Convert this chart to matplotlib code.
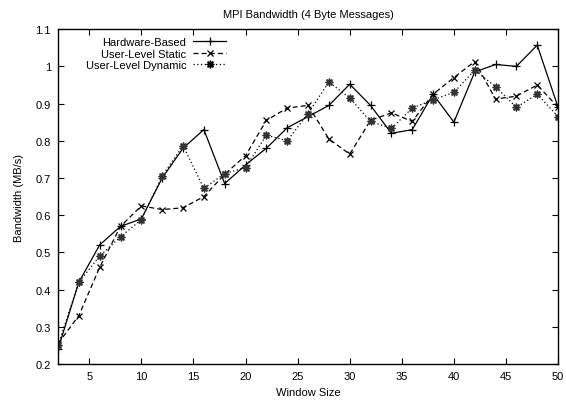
import matplotlib
matplotlib.use("Agg")
import matplotlib.pyplot as plt
from matplotlib.legend_handler import HandlerTuple

plt.rcParams['font.family'] = ['Liberation Sans', 'DejaVu Sans']
plt.rcParams['font.size'] = 8

window = [2, 4, 6, 8, 10, 12, 14, 16, 18, 20, 22, 24, 26, 28, 30,
          32, 34, 36, 38, 40, 42, 44, 46, 48, 50]
hardware = [0.240, 0.420, 0.520, 0.570, 0.590, 0.700, 0.780, 0.830, 0.685,
            0.735, 0.780, 0.835, 0.865, 0.895, 0.952, 0.895, 0.820, 0.830,
            0.925, 0.850, 0.985, 1.005, 1.000, 1.057, 0.890]
static = [0.255, 0.330, 0.460, 0.570, 0.625, 0.615, 0.620, 0.650, 0.710,
          0.760, 0.855, 0.888, 0.895, 0.805, 0.764, 0.855, 0.875, 0.852,
          0.925, 0.970, 1.013, 0.912, 0.920, 0.950, 0.890]
dynamic = [0.250, 0.420, 0.490, 0.542, 0.588, 0.705, 0.787, 0.672, 0.712,
           0.728, 0.815, 0.800, 0.873, 0.958, 0.915, 0.852, 0.833, 0.888,
           0.910, 0.930, 0.990, 0.945, 0.890, 0.925, 0.865]

xticks = [5, 10, 15, 20, 25, 30, 35, 40, 45, 50]
yticks = [0.2, 0.3, 0.4, 0.5, 0.6, 0.7, 0.8, 0.9, 1.0, 1.1]
ytick_labels = ['0.2', '0.3', '0.4', '0.5', '0.6', '0.7', '0.8', '0.9', '1', '1.1']

fig = plt.figure(figsize=(5.66, 4.02), dpi=100)
ax = fig.add_axes([0.1025, 0.092, 0.8835, 0.833])

lw = 0.9
h1, = ax.plot(window, hardware, color='black', lw=lw, ls='-',
              marker='+', ms=6, mew=0.9)
h2, = ax.plot(window, static, color='black', lw=lw, ls=(0, (4, 2.5)),
              marker='x', ms=5, mew=0.9)
h3, = ax.plot(window, dynamic, color='black', lw=lw, ls=(0, (1, 2)),
              marker=(8, 2, 0), ms=5.5, mew=0.9)
h3b, = ax.plot(window, dynamic, ls='none', marker='s', ms=4.5,
               mfc='#666666', mec='#666666', alpha=0.5, mew=0.5)

ax.set_xlim(2, 50)
ax.set_ylim(0.2, 1.1)
ax.set_xticks(xticks)
ax.set_yticks(yticks)
ax.set_yticklabels(ytick_labels)
ax.tick_params(direction='in', top=True, right=True, length=4, width=0.8,
               labelsize=8, pad=5)
for s in ax.spines.values():
    s.set_linewidth(1.0)

ax.set_title('MPI Bandwidth (4 Byte Messages)', fontsize=8, pad=9)
ax.set_xlabel('Window Size', fontsize=8, labelpad=4)
ax.set_ylabel('Bandwidth (MB/s)', fontsize=8, labelpad=8)

ax.legend([h1, h2, (h3b, h3)],
          ['Hardware-Based', 'User-Level Static', 'User-Level Dynamic'],
          handler_map={tuple: HandlerTuple(ndivide=1)},
          loc='upper left', bbox_to_anchor=(0.04, 1.0), frameon=False,
          markerfirst=False, handlelength=3.0, handletextpad=0.6,
          labelspacing=0.15, fontsize=8, borderaxespad=0.3)

fig.savefig('out.png', dpi=100)
